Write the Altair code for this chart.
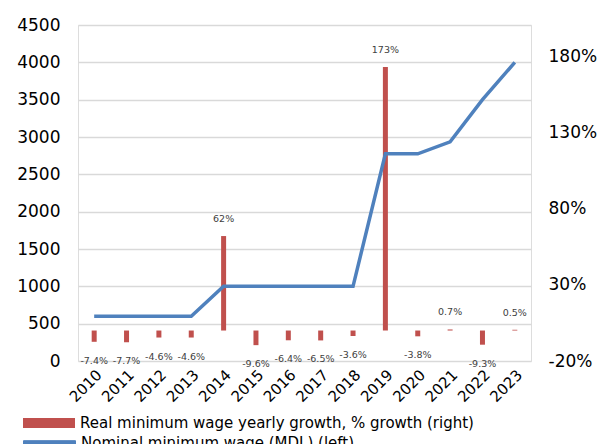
import altair as alt
import pandas as pd

years = ["2010", "2011", "2012", "2013", "2014", "2015", "2016", "2017",
         "2018", "2019", "2020", "2021", "2022", "2023"]
real_growth = [-7.4, -7.7, -4.6, -4.6, 62, -9.6, -6.4, -6.5, -3.6, 173, -3.8, 0.7, -9.3, 0.5]
growth_labels = ["-7.4%", "-7.7%", "-4.6%", "-4.6%", "62%", "-9.6%", "-6.4%", "-6.5%",
                 "-3.6%", "173%", "-3.8%", "0.7%", "-9.3%", "0.5%"]
nominal_wage = [600, 600, 600, 600, 1000, 1000, 1000, 1000, 1000, 2775, 2775, 2935, 3500, 4000]

bar_name = "Real minimum wage yearly growth, % growth (right)"
line_name = "Nominal minimum wage (MDL) (left)"

df = pd.DataFrame({
    "year": years,
    "growth": real_growth,
    "label": growth_labels,
    "wage": nominal_wage,
    "bar_series": [bar_name] * len(years),
    "line_series": [line_name] * len(years),
})

FONT = "DejaVu Sans"
RED = "#C0504D"
BLUE = "#4F81BD"
right_dom = [-20, 200.5]

base = alt.Chart(df)
x_enc = alt.X("year:N", sort=years, title=None,
              scale=alt.Scale(paddingInner=0, paddingOuter=0),
              axis=alt.Axis(labelAngle=-45, labelFontSize=15, labelColor="#000000",
                            labelFont=FONT, domain=False, ticks=False, labelPadding=6,
                            labelAlign="right", labelBaseline="top"))

bars = base.mark_bar(size=5).encode(
    x=x_enc,
    y=alt.Y("growth:Q", title=None,
            scale=alt.Scale(domain=right_dom, nice=False, zero=False),
            axis=alt.Axis(orient="right", values=[-20, 30, 80, 130, 180],
                          labelExpr="datum.value + '%'", labelFontSize=17,
                          labelColor="#000000", labelFont=FONT, grid=False,
                          domain=False, ticks=False, labelPadding=17)),
    y2=alt.datum(0),
    fill=alt.Fill("bar_series:N", title=None,
                  scale=alt.Scale(range=[RED]),
                  legend=alt.Legend(orient="none", legendX=-55, legendY=372,
                                    symbolType="M-1,-0.19H1V0.19H-1Z", symbolSize=2704,
                                    symbolStrokeWidth=0, labelFontSize=15,
                                    labelFont=FONT, labelColor="#000000",
                                    labelOffset=5, padding=0, labelLimit=600)),
)

pos_labels = base.transform_filter("datum.growth >= 0").mark_text(
    dy=-17, fontSize=9.5, font=FONT, color="#404040", baseline="middle").encode(
    x=alt.X("year:N", sort=years),
    y=alt.Y("growth:Q", scale=alt.Scale(domain=right_dom, nice=False, zero=False), axis=None),
    text="label:N",
)
neg_labels = base.transform_filter("datum.growth < 0").mark_text(
    dy=19, fontSize=9.5, font=FONT, color="#404040", baseline="middle").encode(
    x=alt.X("year:N", sort=years),
    y=alt.Y("growth:Q", scale=alt.Scale(domain=right_dom, nice=False, zero=False), axis=None),
    text="label:N",
)

line = base.mark_line(strokeWidth=3.5).encode(
    x=alt.X("year:N", sort=years),
    y=alt.Y("wage:Q", title=None,
            scale=alt.Scale(domain=[0, 4500], nice=False),
            axis=alt.Axis(orient="left", values=list(range(0, 4501, 500)), format="d",
                          labelFontSize=17, labelColor="#000000", labelFont=FONT,
                          grid=True, gridColor="#d9d9d9", gridWidth=1.5,
                          domain=False, ticks=False, labelPadding=18)),
    stroke=alt.Stroke("line_series:N", title=None,
                      scale=alt.Scale(range=[BLUE]),
                      legend=alt.Legend(orient="none", legendX=-55, legendY=391,
                                        symbolType="M-1,-0.07H1V0.07H-1Z", symbolSize=2704,
                                        symbolFillColor=BLUE, symbolStrokeColor=BLUE,
                                        symbolStrokeWidth=1, labelFontSize=15,
                                        labelFont=FONT, labelColor="#000000",
                                        labelOffset=5, padding=0, labelLimit=600)),
)

chart = alt.layer(bars, pos_labels, neg_labels, line).resolve_scale(
    y="independent"
).properties(
    width=453, height=336,
    autosize=alt.AutoSizeParams(type="none"),
    padding={"left": 78, "top": 25, "right": 72, "bottom": 83},
).configure_view(stroke=None).configure(background="white")

chart.save("out.html", embed_options={"renderer": "svg", "actions": False})
